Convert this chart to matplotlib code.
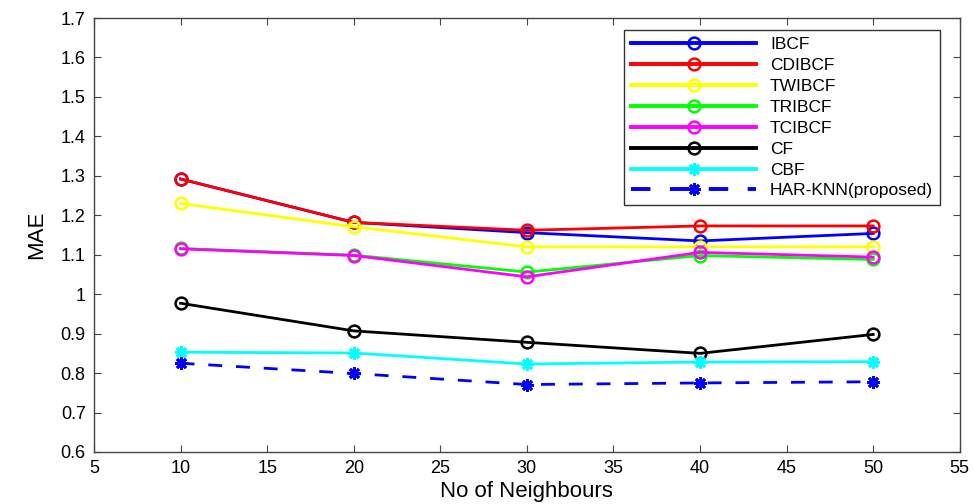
import numpy as np
import matplotlib
matplotlib.use('Agg')
import matplotlib.pyplot as plt

plt.rcParams['font.family'] = ['Liberation Sans', 'DejaVu Sans']

# data
neighbours = [10, 20, 30, 40, 50]
ibcf = [1.292, 1.182, 1.156, 1.135, 1.154]
cdibcf = [1.292, 1.182, 1.162, 1.173, 1.173]
twibcf = [1.230, 1.171, 1.120, 1.120, 1.120]
tribcf = [1.116, 1.099, 1.056, 1.098, 1.088]
tcibcf = [1.115, 1.098, 1.044, 1.106, 1.094]
cf = [0.977, 0.907, 0.878, 0.850, 0.898]
cbf = [0.853, 0.851, 0.823, 0.828, 0.829]
har_knn = [0.825, 0.799, 0.771, 0.775, 0.778]

series = [
    ('IBCF', ibcf, 'blue', 'o', '-'),
    ('CDIBCF', cdibcf, 'red', 'o', '-'),
    ('TWIBCF', twibcf, 'yellow', 'o', '-'),
    ('TRIBCF', tribcf, 'lime', 'o', '-'),
    ('TCIBCF', tcibcf, 'magenta', 'o', '-'),
    ('CF', cf, 'black', 'o', '-'),
    ('CBF', cbf, 'cyan', '*', '-'),
    ('HAR-KNN(proposed)', har_knn, 'blue', '*', '--'),
]

fig = plt.figure(figsize=(9.75, 5.04), dpi=100)
ax = fig.add_axes([0.0964, 0.1032, 0.888, 0.861])

for name, vals, col, mk, ls in series:
    if mk == 'o':
        ax.plot(neighbours, vals, color=col, linestyle=ls, linewidth=2,
                marker='o', markersize=8.5, markerfacecolor='none',
                markeredgewidth=1.8, label=name)
    else:
        ax.plot(neighbours, vals, color=col, linestyle=ls, linewidth=2,
                dashes=(5, 5) if ls == '--' else (None, None),
                marker=(8, 2, 0), markersize=9, markeredgewidth=2,
                label=name)

ax.set_xlim(5, 55)
ax.set_ylim(0.6, 1.7)
ax.set_xticks(np.arange(5, 56, 5))
ax.set_yticks(np.arange(0.6, 1.71, 0.1))
ax.set_yticklabels(['0.6', '0.7', '0.8', '0.9', '1', '1.1', '1.2', '1.3',
                    '1.4', '1.5', '1.6', '1.7'])
ax.tick_params(direction='in', top=True, right=True, labelsize=13,
               length=5, color='#444444', pad=6)
for sp in ax.spines.values():
    sp.set_color('#444444')
    sp.set_linewidth(1)

ax.set_xlabel('No of Neighbours', fontsize=16, labelpad=3)
ax.set_ylabel('MAE', fontsize=16, labelpad=10)

leg = ax.legend(loc='upper right', bbox_to_anchor=(0.977, 0.972),
                borderaxespad=0, fontsize=12.5, handlelength=7.2,
                fancybox=False, framealpha=1, edgecolor='#333333',
                borderpad=0.4, labelspacing=0.33, handletextpad=0.8)
leg.get_frame().set_linewidth(1)
for ln in leg.get_lines():
    ln.set_linewidth(2.8)

plt.savefig('out.png', dpi=100)
